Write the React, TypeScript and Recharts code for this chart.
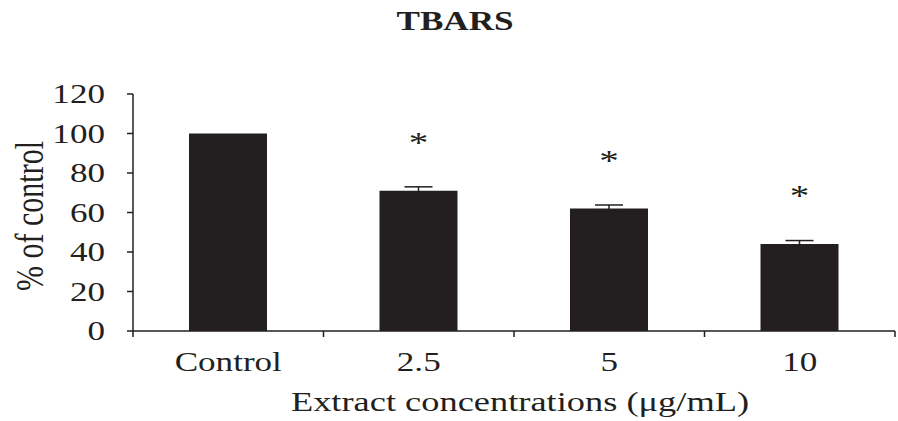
import React from 'react'
import { BarChart, Bar, XAxis, YAxis, ErrorBar, LabelList } from 'recharts'

const categories = ['Control', '2.5', '5', '10']
const means = [100, 71, 62, 44]
const errors = [0, 2, 1.8, 1.8]
const significance = ['', '*', '*', '*']
const yTicks = [0, 20, 40, 60, 80, 100, 120]

const data = categories.map((name, i) => ({
  name,
  value: means[i],
  err: errors[i],
  sig: significance[i],
}))

// chart geometry
const WIDTH = 898
const HEIGHT = 421
const PLOT_LEFT = 133
const PLOT_RIGHT = 895
const PLOT_TOP = 94
const PLOT_BOTTOM = 331
const BAND = (PLOT_RIGHT - PLOT_LEFT) / categories.length

const INK = '#231f20'
const FONT = '"Liberation Serif", "Times New Roman", serif'
// the printed figure is widened horizontally, so text is stretched to suit
const SX = 1.3

interface StretchTextProps {
  x: number
  y: number
  size: number
  anchor?: 'start' | 'middle' | 'end'
  bold?: boolean
  vertical?: boolean
  children: React.ReactNode
}

const StretchText = ({ x, y, size, anchor = 'middle', bold, vertical, children }: StretchTextProps) => (
  <text
    transform={`translate(${x},${y}) scale(${SX},1)${vertical ? ' rotate(-90)' : ''}`}
    x={0}
    y={0}
    textAnchor={anchor}
    fontFamily={FONT}
    fontSize={size}
    fontWeight={bold ? 'bold' : 'normal'}
    fill={INK}
  >
    {children}
  </text>
)

const YTick = (props: any) => {
  const { y, payload } = props
  return (
    <StretchText x={PLOT_LEFT - 28} y={y + 9} size={27} anchor="end">
      {payload.value}
    </StretchText>
  )
}

// category ticks sit on the band edges, labels in the middle
const XTick = (props: any) => {
  const { x, payload, index } = props
  const left = x - BAND / 2
  const right = x + BAND / 2
  return (
    <g>
      <line x1={left} y1={PLOT_BOTTOM} x2={left} y2={PLOT_BOTTOM + 6} stroke={INK} strokeWidth={1.5} />
      {index === categories.length - 1 && (
        <line x1={right} y1={PLOT_BOTTOM} x2={right} y2={PLOT_BOTTOM + 6} stroke={INK} strokeWidth={1.5} />
      )}
      <StretchText x={x} y={371} size={27}>
        {payload.value}
      </StretchText>
    </g>
  )
}

const AsteriskLabel = (props: any) => {
  const { x, y, width, value } = props
  if (!value) return null
  return (
    <StretchText x={x + width / 2} y={y - 52 + 13} size={30}>
      {value}
    </StretchText>
  )
}

const XLabel = () => (
  <StretchText x={520} y={411} size={28}>
    Extract concentrations (μg/mL)
  </StretchText>
)

const YLabel = () => (
  <StretchText x={43} y={216} size={30} vertical>
    % of control
  </StretchText>
)

const App = () => {
  return (
    <div style={{ position: 'absolute', left: 0, top: 0, width: WIDTH, height: HEIGHT, background: '#fff' }}>
      <div
        style={{
          position: 'absolute',
          left: 0,
          top: 8,
          width: 910,
          textAlign: 'center',
          fontFamily: FONT,
          fontWeight: 'bold',
          fontSize: 27,
          lineHeight: '27px',
          color: INK,
          transform: `scaleX(${SX})`,
          transformOrigin: '455px 0',
        }}
      >
        TBARS
      </div>
      <BarChart
        width={WIDTH}
        height={HEIGHT}
        data={data}
        margin={{ top: PLOT_TOP, right: WIDTH - PLOT_RIGHT, bottom: 0, left: 0 }}
        barSize={78}
      >
        <XAxis
          dataKey="name"
          height={HEIGHT - PLOT_BOTTOM}
          tickLine={false}
          axisLine={{ stroke: INK, strokeWidth: 1.5 }}
          tick={<XTick />}
          interval={0}
          label={{ content: () => <XLabel /> }}
        />
        <YAxis
          width={PLOT_LEFT}
          domain={[0, 120]}
          ticks={yTicks}
          tickSize={6}
          tickLine={{ stroke: INK, strokeWidth: 1.5 }}
          axisLine={{ stroke: INK, strokeWidth: 1.5 }}
          tick={<YTick />}
          label={{ content: () => <YLabel /> }}
        />
        <Bar dataKey="value" fill={INK} isAnimationActive={false}>
          <ErrorBar dataKey="err" width={14} strokeWidth={1.5} stroke={INK} isAnimationActive={false} />
          <LabelList dataKey="sig" content={<AsteriskLabel />} />
        </Bar>
      </BarChart>
    </div>
  )
}

export default App
